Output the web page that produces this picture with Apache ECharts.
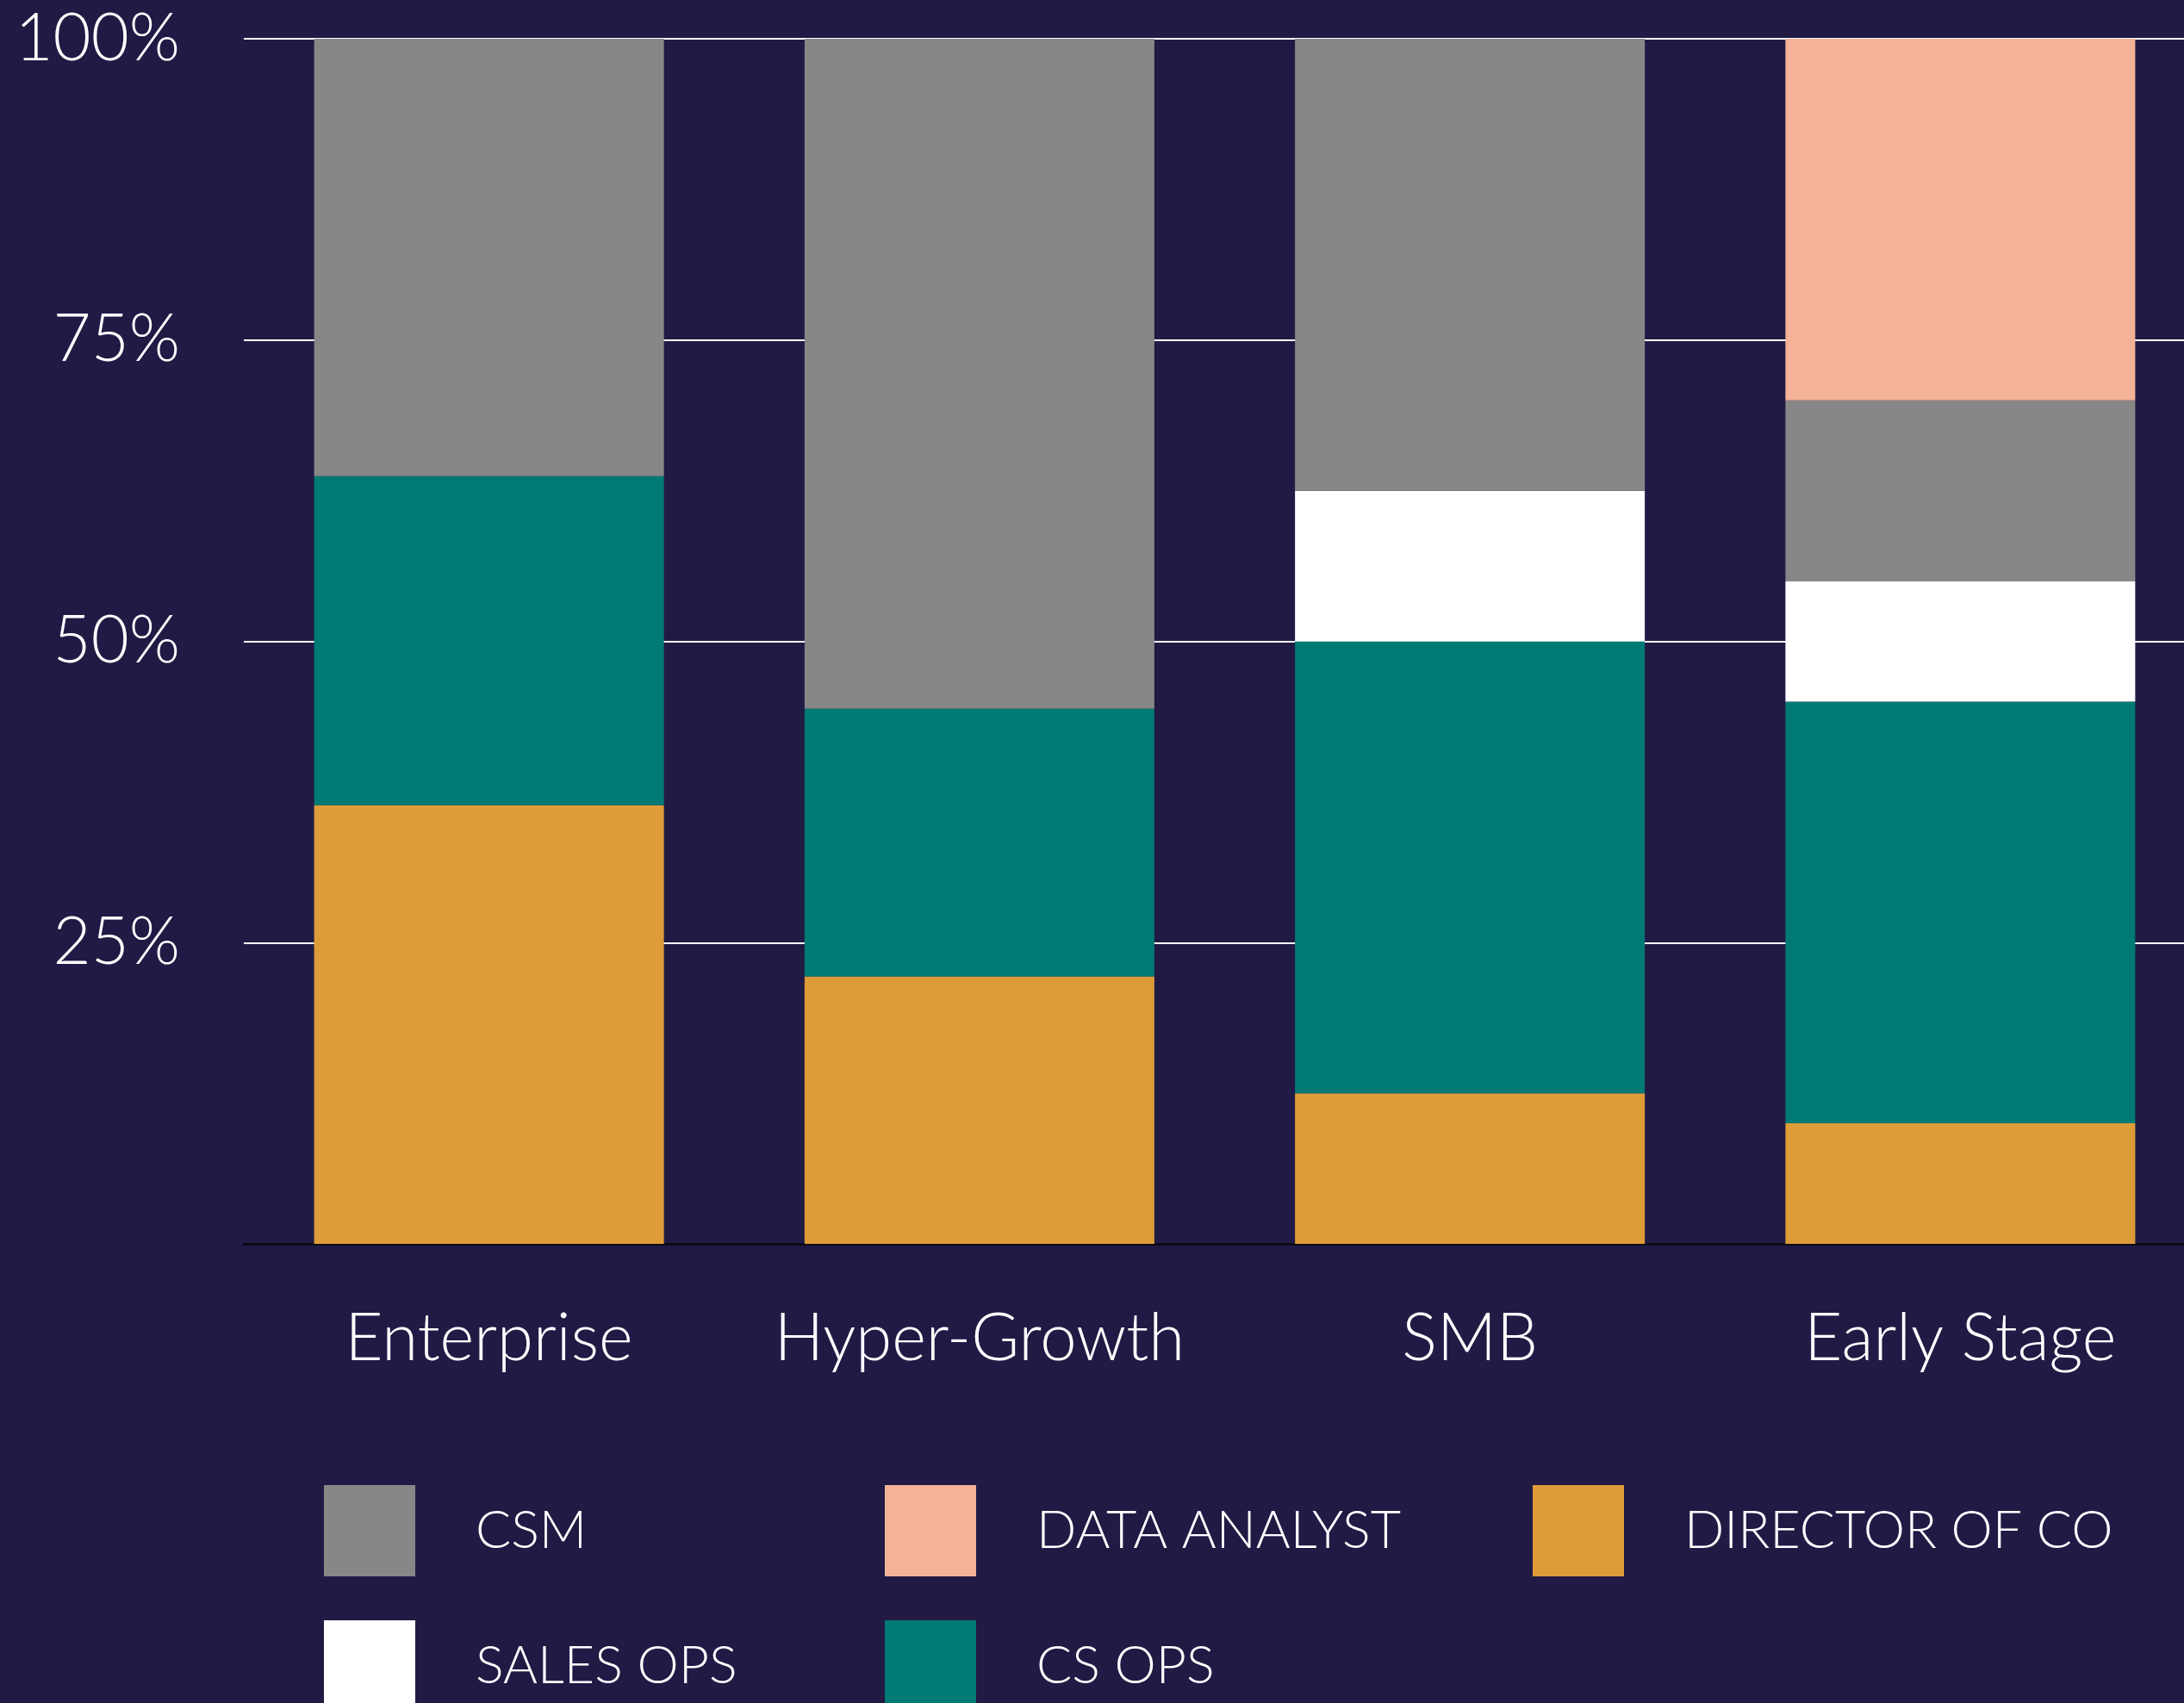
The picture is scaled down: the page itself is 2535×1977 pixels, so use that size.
<!DOCTYPE html>
<html>
<head>
<meta charset="utf-8">
<script src="https://cdn.jsdelivr.net/npm/echarts@6/dist/echarts.min.js"></script>
<style>
    html, body {margin: 0; padding: 0; background: #211a45;}
    #chart {width: 2535px; height: 1977px;}
</style>
</head>
<body>
<div id="chart"></div>
<script>
// segments of company type, share of respondents (%)
let categories = ['Enterprise', 'Hyper-Growth', 'SMB', 'Early Stage'];
let directorOfCo = [36.4, 22.2, 12.5, 10];
let csOps = [27.3, 22.2, 37.5, 35];
let salesOps = [0, 0, 12.5, 10];
let csm = [36.3, 55.6, 37.5, 15];
let dataAnalyst = [0, 0, 0, 30];
let yTicks = [0, 25, 50, 75, 100];

let font = 'Lato';
let chart = echarts.init(document.getElementById('chart'));

function bar(name, data, color) {
    return {
        name: name,
        type: 'bar',
        stack: 'total',
        barWidth: 406,
        data: data,
        itemStyle: {color: color},
        emphasis: {disabled: true}
    };
}

function legendItem(name, left, top) {
    return {
        data: [name],
        left: left,
        top: top,
        padding: 0,
        icon: 'rect',
        itemWidth: 106,
        itemHeight: 106,
        selectedMode: false,
        textStyle: {
            color: '#ffffff',
            fontFamily: font,
            fontWeight: 300,
            fontSize: 61,
            padding: [0, 0, 0, 65]
        }
    };
}

let option = {
    backgroundColor: '#211a45',
    animation: false,
    grid: {
        left: 283,
        width: 2277,
        top: 45,
        bottom: 533,
        outerBoundsMode: 'none'
    },
    legend: [
        legendItem('CSM', 376, 1724),
        legendItem('DATA ANALYST', 1027, 1724),
        legendItem('DIRECTOR OF CO', 1779, 1724),
        legendItem('SALES OPS', 376, 1881),
        legendItem('CS OPS', 1027, 1881)
    ],
    xAxis: {
        type: 'category',
        data: categories,
        axisTick: {show: false},
        axisLine: {lineStyle: {color: '#0a0a14', width: 3}},
        axisLabel: {
            interval: 0,
            color: '#ffffff',
            fontFamily: font,
            fontWeight: 300,
            fontSize: 76,
            margin: 72
        }
    },
    yAxis: {
        type: 'value',
        min: yTicks[0],
        max: yTicks[yTicks.length - 1],
        interval: 25,
        axisLine: {show: false},
        axisTick: {show: false},
        splitLine: {lineStyle: {color: '#ffffff', width: 2}},
        axisLabel: {
            color: '#ffffff',
            fontFamily: font,
            fontWeight: 300,
            fontSize: 76,
            margin: 74,
            showMinLabel: false,
            formatter: function (v) {
                return v === 0 ? '' : v + '%';
            }
        }
    },
    series: [
        bar('DIRECTOR OF CO', directorOfCo, '#de9c38'),
        bar('CS OPS', csOps, '#007a74'),
        bar('SALES OPS', salesOps, '#ffffff'),
        bar('CSM', csm, '#878787'),
        bar('DATA ANALYST', dataAnalyst, '#f4b398')
    ]
};

chart.setOption(option);
</script>
</body>
</html>
